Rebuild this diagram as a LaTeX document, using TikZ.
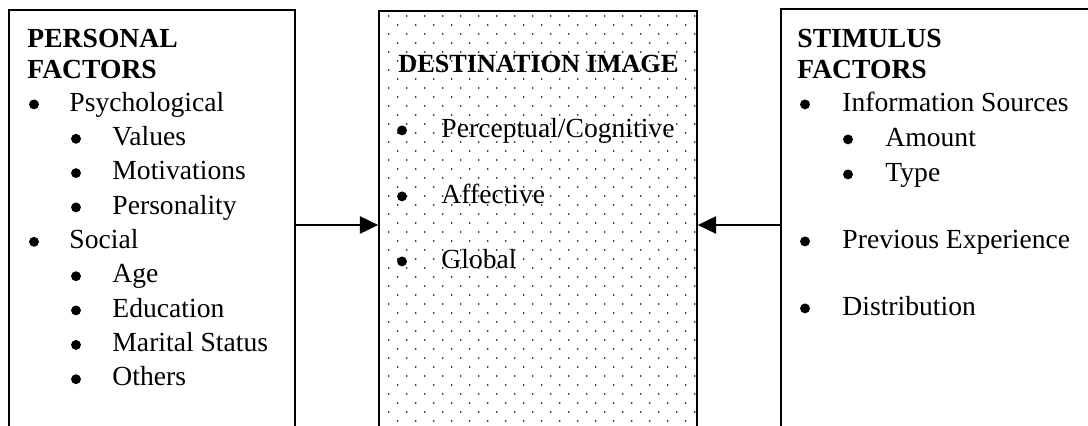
\documentclass[tikz,border=0pt]{standalone}
\usepackage{fontspec}
\setmainfont{Liberation Serif}
\usetikzlibrary{arrows.meta,fit}
\begin{document}
\begin{tikzpicture}[x=0.4348pt,y=-0.4348pt,
  txt/.style={anchor=base west,inner sep=0pt,font=\fontsize{12}{14}\selectfont},
  head/.style={anchor=base west,inner sep=0pt,font=\fontsize{12}{14}\selectfont\bfseries},
  title/.style={anchor=base west,inner sep=0pt,font=\fontsize{11.4}{13}\selectfont\bfseries},
  blt/.style={circle,fill=black,inner sep=0pt,minimum size=4.3pt,yshift=6.6*0.4348pt},
  frame/.style={draw,line width=0.7pt,inner sep=0pt},
  dotmark/.style={fill=black},
  conn/.style={line width=0.9pt,-{Triangle[length=8pt,width=7.5pt]}}]
\useasboundingbox (0,0) rectangle (1088,425);
\clip (0,0) rectangle (1088,425);
% boxes (open at the bottom edge of the picture)
\node[frame,fit={(9,10) (295,445)}] (pf) {};
\node[frame,fit={(379,11) (697,445)}] (di) {};
\node[frame,fit={(781,9) (1110,445)}] (sf) {};
% dot pattern of the destination image box
\foreach \m in {0,...,22}{
  \foreach \j in {0,...,17}{
    \fill[dotmark] (388.7+18*\j,16+18*\m) circle[radius=0.38pt];
  }
  \foreach \j in {0,...,16}{
    \fill[dotmark] (397.7+18*\j,25+18*\m) circle[radius=0.38pt];
  }
}
% personal factors
\node[head] (pf1) at (27,47) {PERSONAL};
\node[head] (pf2) at (27,78) {FACTORS};
\node[blt] (pb1) at (34,111) {};
\node[txt] (pt1) at (69,111) {Psychological};
\node[blt] (pb2) at (76,145.4) {};
\node[txt] (pt2) at (112,145.4) {Values};
\node[blt] (pb3) at (76,179.7) {};
\node[txt] (pt3) at (112,179.7) {Motivations};
\node[blt] (pb4) at (76,214) {};
\node[txt] (pt4) at (112,214) {Personality};
\node[blt] (pb5) at (34,248.4) {};
\node[txt] (pt5) at (69,248.4) {Social};
\node[blt] (pb6) at (76,282.8) {};
\node[txt] (pt6) at (112,282.8) {Age};
\node[blt] (pb7) at (76,317) {};
\node[txt] (pt7) at (112,317) {Education};
\node[blt] (pb8) at (76,351.5) {};
\node[txt] (pt8) at (112,351.5) {Marital Status};
\node[blt] (pb9) at (76,385.8) {};
\node[txt] (pt9) at (112,385.8) {Others};
% destination image
\node[title] (dt) at (398,72) {DESTINATION IMAGE};
\node[blt] (db1) at (402,137) {};
\node[txt] (dt1) at (441,137) {Perceptual/Cognitive};
\node[blt] (db2) at (402,203) {};
\node[txt] (dt2) at (441,203) {Affective};
\node[blt] (db3) at (402,268) {};
\node[txt] (dt3) at (441,268) {Global};
% stimulus factors
\node[head] (sf1) at (797,47) {STIMULUS};
\node[head] (sf2) at (797,78) {FACTORS};
\node[blt] (sb1) at (805,111) {};
\node[txt] (st1) at (842,111) {Information Sources};
\node[blt] (sb2) at (848,146) {};
\node[txt] (st2) at (885,146) {Amount};
\node[blt] (sb3) at (848,181) {};
\node[txt] (st3) at (885,181) {Type};
\node[blt] (sb4) at (805,248) {};
\node[txt] (st4) at (842,248) {Previous Experience};
\node[blt] (sb5) at (805,315) {};
\node[txt] (st5) at (842,315) {Distribution};
% connectors
\coordinate (ay) at (0,225);
\draw[conn] (pf.east |- ay) -- (di.west |- ay);
\draw[conn] (sf.west |- ay) -- (di.east |- ay);
\end{tikzpicture}
\end{document}
